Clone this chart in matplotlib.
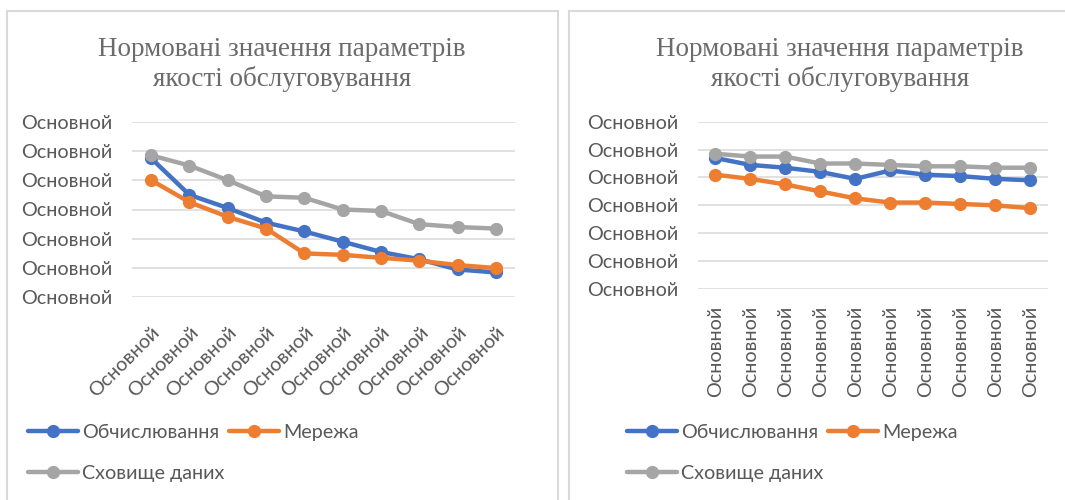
import matplotlib.pyplot as plt
from matplotlib.patches import Rectangle
from matplotlib.ticker import FuncFormatter, MultipleLocator

# Categories (Excel shows the same placeholder label everywhere)
categories = ["Основной"] * 10
tick_label = "Основной"
title = "Нормовані значення параметрів\nякості обслуговування"
series_names = ["Обчислювання", "Мережа", "Сховище даних"]
colors = ["#4472C4", "#ED7D31", "#A5A5A5"]

# Left chart values
left_compute = [0.95, 0.70, 0.61, 0.51, 0.45, 0.38, 0.31, 0.26, 0.19, 0.17]
left_network = [0.80, 0.65, 0.55, 0.47, 0.30, 0.29, 0.27, 0.25, 0.22, 0.20]
left_storage = [0.97, 0.90, 0.80, 0.69, 0.68, 0.60, 0.59, 0.50, 0.48, 0.47]

# Right chart values
right_compute = [0.94, 0.89, 0.87, 0.84, 0.79, 0.85, 0.82, 0.81, 0.79, 0.78]
right_network = [0.82, 0.79, 0.75, 0.70, 0.65, 0.62, 0.62, 0.61, 0.60, 0.58]
right_storage = [0.97, 0.95, 0.95, 0.90, 0.90, 0.89, 0.88, 0.88, 0.87, 0.87]

text_color = "#595959"
title_color = "#6B6B6B"
grid_color = "#D9D9D9"
sans = ["Lato", "DejaVu Sans"]
serif = ["Liberation Serif", "DejaVu Serif"]
fsize = 14.2

fig = plt.figure(figsize=(10.65, 5.0), dpi=100)

# Chart frames
fig.patches.append(Rectangle((7 / 1065, -0.1), 551 / 1065, 1.1 - 11 / 500,
                             transform=fig.transFigure, fill=False,
                             edgecolor=grid_color, linewidth=1.5))
fig.patches.append(Rectangle((569 / 1065, -0.1), 0.6, 1.1 - 11 / 500,
                             transform=fig.transFigure, fill=False,
                             edgecolor=grid_color, linewidth=1.5))


def draw_chart(ax, data, rotation, title_x):
    x = range(len(categories))
    for values, name, color in zip(data, series_names, colors):
        ax.plot(x, values, color=color, linewidth=3.2, marker="o",
                markersize=8.5, label=name, solid_capstyle="round")

    ax.set_xlim(-0.5, len(categories) - 0.5)
    ax.set_ylim(0, 1.2)
    ax.yaxis.set_major_locator(MultipleLocator(0.2))
    ax.yaxis.set_major_formatter(FuncFormatter(lambda v, p: tick_label))
    ax.grid(axis="y", color=grid_color, linewidth=1.1)
    ax.set_axisbelow(True)
    for s in ax.spines.values():
        s.set_visible(False)
    ax.tick_params(length=0, labelsize=fsize, labelcolor=text_color)
    ax.tick_params(axis="y", pad=14)

    ax.set_xticks(list(x))
    if rotation == 45:
        ax.set_xticklabels(categories, rotation=45, ha="right",
                           rotation_mode="anchor", family=sans)
        ax.tick_params(axis="x", pad=19)
    else:
        ax.set_xticklabels(categories, rotation=90, ha="center", va="top",
                           family=sans)
        ax.tick_params(axis="x", pad=12)
    for lbl in ax.get_yticklabels():
        lbl.set_family(sans)

    fig.text(title_x, 0.925, title, ha="center", va="top", family=serif,
             fontsize=19.5, color=title_color, linespacing=1.18)

    # Legend in Excel row order: two in the first row, one in the second
    h, l = ax.get_legend_handles_labels()
    return [h[0], h[2], h[1]], [l[0], l[2], l[1]]


ax1 = fig.add_axes([132 / 1065, 1 - 297.3 / 500, 383 / 1065, 175.6 / 500])
h1, l1 = draw_chart(ax1, [left_compute, left_network, left_storage], 45, 282 / 1065)

ax2 = fig.add_axes([697.7 / 1065, 1 - 289 / 500, 350 / 1065, 167.3 / 500])
h2, l2 = draw_chart(ax2, [right_compute, right_network, right_storage], 90, 840 / 1065)

for handles, labels, x0 in [(h1, l1, 28 / 1065), (h2, l2, 627 / 1065)]:
    leg = fig.legend(handles, labels, ncol=2, loc="upper left",
                     bbox_to_anchor=(x0, 1 - 424 / 500), frameon=False,
                     prop={"family": sans, "size": fsize},
                     handlelength=2.55, handletextpad=0.2,
                     columnspacing=0.2, labelspacing=1.2,
                     borderpad=0, borderaxespad=0)
    for t in leg.get_texts():
        t.set_color(text_color)

fig.savefig("out.png", dpi=100)
